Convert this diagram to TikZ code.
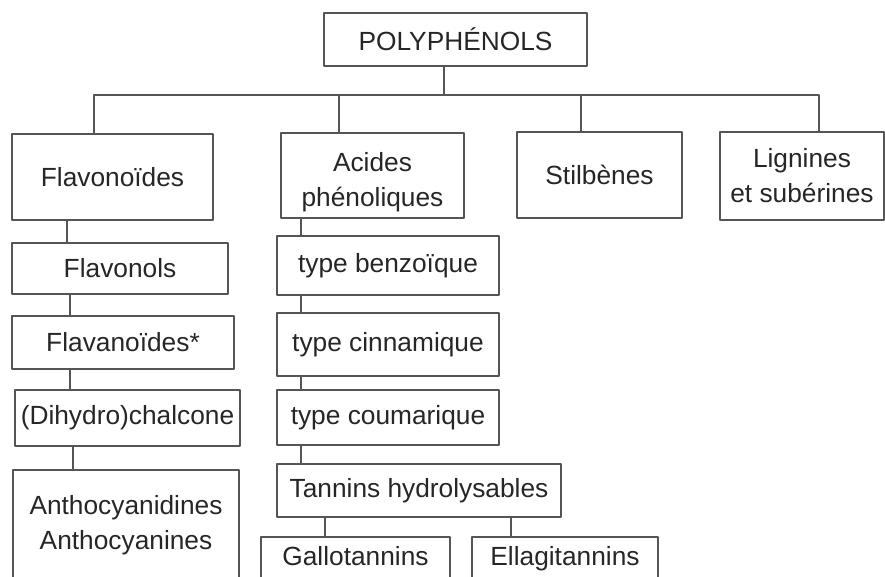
\documentclass[tikz,border=0pt]{standalone}
\usepackage{fontspec}
\setmainfont{Liberation Sans}
\definecolor{linegray}{HTML}{555555}
\definecolor{textgray}{HTML}{262626}
\tikzset{
  every picture/.style={
    line join=round,
    line cap=round,
  },
  box/.style={draw=linegray, line width=1.5pt, inner sep=0pt, align=center,
    text=textgray, font=\fontsize{26.3}{35}\selectfont},
  link/.style={linegray, line width=1.5pt},
}

\begin{document}
\begin{tikzpicture}[x=1pt, y=-1pt]
\useasboundingbox (0,0) rectangle (885,577);
\clip (0,0) rectangle (885,577);
% Root
\node[box, minimum width=263pt, minimum height=53pt] (poly) at (455.5,39.5) {POLYPHÉNOLS};

% Main classes
\node[box, minimum width=201pt, minimum height=86pt] (flavo) at (112.5,177) {Flavonoïdes};
\node[box, minimum width=183pt, minimum height=85pt, text height=68pt] (acides) at (372.5,175.5) {Acides\\phénoliques};
\node[box, minimum width=165pt, minimum height=86pt] (stilb) at (599.5,175) {Stilbènes};
\node[box, minimum width=164pt, minimum height=88pt] (lign) at (802,176) {Lignines\\et subérines};

% Bus between root and classes
\coordinate (busL) at (94,95);
\coordinate (busR) at (819,95);
\coordinate (busP) at (444,95);
\coordinate (busA) at (339,95);
\coordinate (busS) at (581,95);
\draw[link] (flavo.north -| busL) -- (busL) -- (busR) -- (lign.north -| busR);
\draw[link] (poly.south -| busP) -- (busP);
\draw[link] (acides.north -| busA) -- (busA);
\draw[link] (stilb.north -| busS) -- (busS);

% Flavonoid column
\node[box, minimum width=216pt, minimum height=51pt] (flavonols) at (120,268.5) {Flavonols};
\node[box, minimum width=222pt, minimum height=53pt] (flavanoides) at (123,342.5) {Flavanoïdes*};
\node[box, minimum width=225pt, minimum height=56pt] (chalcone) at (127.5,418) {(Dihydro)chalcone};
\node[box, minimum width=226pt, minimum height=110pt] (antho) at (126,525) {Anthocyanidines\\Anthocyanines};

\draw[link] (flavo.south -| 67,0) -- (flavonols.north -| 67,0);
\draw[link] (flavonols.south -| 70,0) -- (flavanoides.north -| 70,0);
\draw[link] (flavanoides.south -| 70,0) -- (chalcone.north -| 70,0);
\draw[link] (chalcone.south -| 73,0) -- (antho.north -| 73,0);

% Phenolic acid column
\node[box, minimum width=222pt, minimum height=59pt] (benzo) at (388,265.5) {type benzoïque};
\node[box, minimum width=222pt, minimum height=63pt] (cinna) at (388,344.5) {type cinnamique};
\node[box, minimum width=222pt, minimum height=55pt] (couma) at (388,417.5) {type coumarique};
\node[box, minimum width=284pt, minimum height=53pt] (tannins) at (419,490.5) {Tannins hydrolysables};
\node[box, minimum width=189pt, minimum height=43pt, text height=19pt, text depth=6pt] (gallo) at (355.5,558.5) {Gallotannins};
\node[box, minimum width=186pt, minimum height=43pt, text height=19pt, text depth=6pt] (ellagi) at (565,558.5) {Ellagitannins};

\draw[link] (acides.south -| 301,0) -- (benzo.north -| 301,0);
\draw[link] (benzo.south -| 301,0) -- (cinna.north -| 301,0);
\draw[link] (cinna.south -| 301,0) -- (couma.north -| 301,0);
\draw[link] (couma.south -| 301,0) -- (tannins.north -| 301,0);
\draw[link] (tannins.south -| 325,0) -- (gallo.north -| 325,0);
\draw[link] (tannins.south -| 511,0) -- (ellagi.north -| 511,0);
\end{tikzpicture}
\end{document}
